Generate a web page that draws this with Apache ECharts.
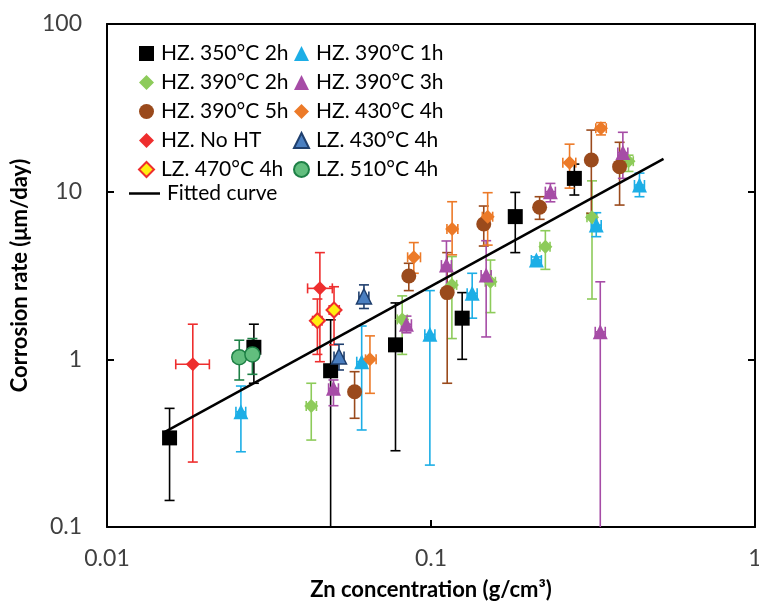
<!DOCTYPE html>
<html>
<head>
<meta charset="utf-8">
<title>Corrosion rate vs Zn concentration</title>
<script src="https://cdn.jsdelivr.net/npm/echarts@6/dist/echarts.min.js"></script>
<style>
  html, body { margin: 0; padding: 0; background: #fff; }
  #chart { width: 759px; height: 603px; }
</style>
</head>
<body>
<div id="chart"></div>
<script>
// Each row: [Zn concentration, corrosion rate, rate low, rate high, conc low, conc high]
const hz350_2h = [
  [0.0156, 0.34, 0.144, 0.51, 0.0156, 0.0156],
  [0.0284, 1.18, 0.72, 1.62, 0.0284, 0.0284],
  [0.049, 0.855, 0.05, 1.72, 0.049, 0.049],
  [0.0777, 1.22, 0.285, 2.17, 0.0777, 0.0777],
  [0.1248, 1.76, 1.0, 2.50, 0.1248, 0.1248],
  [0.182, 7.1, 4.33, 9.9, 0.182, 0.182],
  [0.277, 12.0, 9.55, 14.6, 0.277, 0.277]
];
const hz390_2h = [
  [0.0427, 0.527, 0.33, 0.72, 0.0412, 0.0443],
  [0.0815, 1.73, 1.07, 2.39, 0.0787, 0.0845],
  [0.116, 2.78, 1.33, 4.1, 0.112, 0.120],
  [0.1526, 2.90, 1.90, 3.91, 0.147, 0.158],
  [0.2254, 4.70, 3.44, 5.85, 0.217, 0.233],
  [0.314, 7.03, 2.29, 11.6, 0.303, 0.325],
  [0.407, 15.2, 13.2, 16.5, 0.393, 0.421]
];
const hz390_5h = [
  [0.0581, 0.641, 0.445, 0.844, 0.0565, 0.0598],
  [0.0854, 3.14, 2.57, 3.74, 0.0830, 0.0879],
  [0.1122, 2.50, 0.72, 4.33, 0.109, 0.1155],
  [0.1455, 6.41, 4.74, 8.21, 0.1414, 0.1497],
  [0.2164, 8.07, 6.84, 9.33, 0.2103, 0.2227],
  [0.3125, 15.45, 7.43, 23.3, 0.3037, 0.3216],
  [0.382, 14.1, 8.32, 19.7, 0.3712, 0.3931]
];
const hzNoHT = [
  [0.0184, 0.934, 0.244, 1.62, 0.0163, 0.0207],
  [0.0454, 2.65, 0.968, 4.33, 0.0416, 0.0496]
];
const lz470_4h = [
  [0.0446, 1.70, 1.07, 2.29, 0.0431, 0.0461],
  [0.0502, 1.97, 1.22, 2.71, 0.0485, 0.0521]
];
const hz390_1h = [
  [0.0259, 0.487, 0.281, 0.693, 0.0250, 0.0268],
  [0.0611, 0.968, 0.379, 1.58, 0.0590, 0.0633],
  [0.0992, 1.41, 0.234, 2.57, 0.0957, 0.1028],
  [0.134, 2.48, 1.76, 3.26, 0.1293, 0.1388],
  [0.2115, 3.91, 3.75, 4.08, 0.2041, 0.2191],
  [0.3236, 6.32, 5.39, 7.49, 0.3123, 0.3352],
  [0.44, 10.96, 9.33, 12.9, 0.4246, 0.4558]
];
const hz390_3h = [
  [0.050, 0.672, 0.529, 0.753, 0.0483, 0.0518],
  [0.084, 1.62, 1.44, 1.81, 0.0811, 0.0870],
  [0.1116, 3.65, 2.6, 5.08, 0.1077, 0.1156],
  [0.148, 3.18, 1.36, 5.1, 0.1428, 0.1533],
  [0.2336, 10.0, 8.7, 11.2, 0.2254, 0.2420],
  [0.391, 17.1, 12.0, 22.6, 0.3773, 0.4051],
  [0.333, 1.46, 0.05, 2.90, 0.3213, 0.3450]
];
const hz430_4h = [
  [0.0648, 1.0, 0.627, 1.38, 0.0628, 0.0677],
  [0.0885, 4.06, 3.26, 4.97, 0.0847, 0.0928],
  [0.1162, 5.99, 4.2, 8.71, 0.112, 0.121],
  [0.1496, 7.09, 4.8, 9.86, 0.144, 0.155],
  [0.2677, 14.9, 10.5, 19.2, 0.2552, 0.2798],
  [0.3346, 23.9, 21.8, 25.8, 0.3226, 0.3475]
];
const lz430_4h = [
  [0.052, 1.04, 0.864, 1.23, 0.0502, 0.0539],
  [0.0621, 2.37, 2.01, 2.78, 0.0599, 0.0643]
];
const lz510_4h = [
  [0.0256, 1.03, 0.753, 1.30, 0.0245, 0.0266],
  [0.0281, 1.07, 0.814, 1.33, 0.0270, 0.0292]
];
// Power-law fit, drawn as a straight segment on log-log axes
const fittedCurve = [[0.0150, 0.367], [0.522, 15.7]];

const xTicks = [0.01, 0.1, 1];
const yTicks = [0.1, 1, 10, 100];

const FONT = 'Lato';
const TEXT = '#404040';

function errorBars(rows, color, key) {
  return {
    type: 'custom',
    name: key + ' err',
    coordinateSystem: 'cartesian2d',
    silent: true,
    z: 2,
    data: rows,
    encode: { x: 0, y: 1 },
    renderItem: function (params, api) {
      const cs = params.coordSys;
      const bottom = cs.y + cs.height;
      const x = api.value(0), y = api.value(1);
      const p = api.coord([x, y]);
      const pLo = api.coord([x, api.value(2)]);
      const pHi = api.coord([x, api.value(3)]);
      const st = { stroke: color, lineWidth: 1.6 };
      const cap = 5;
      const kids = [];
      const loClip = pLo[1] > bottom;
      const yLo = Math.min(pLo[1], bottom);
      kids.push({ type: 'line', shape: { x1: p[0], y1: pHi[1], x2: p[0], y2: yLo }, style: st });
      kids.push({ type: 'line', shape: { x1: p[0] - cap, y1: pHi[1], x2: p[0] + cap, y2: pHi[1] }, style: st });
      if (!loClip) {
        kids.push({ type: 'line', shape: { x1: p[0] - cap, y1: yLo, x2: p[0] + cap, y2: yLo }, style: st });
      }
      const xl = api.value(4), xh = api.value(5);
      if (xh > xl) {
        const a = api.coord([xl, y]), b = api.coord([xh, y]);
        kids.push({ type: 'line', shape: { x1: a[0], y1: p[1], x2: b[0], y2: p[1] }, style: st });
        kids.push({ type: 'line', shape: { x1: a[0], y1: p[1] - cap, x2: a[0], y2: p[1] + cap }, style: st });
        kids.push({ type: 'line', shape: { x1: b[0], y1: p[1] - cap, x2: b[0], y2: p[1] + cap }, style: st });
      }
      return { type: 'group', children: kids };
    }
  };
}

function markers(rows, name, symbol, size, fill, border, bw) {
  return {
    type: 'scatter',
    name: name,
    symbol: symbol,
    symbolSize: size,
    z: 3,
    data: rows.map(r => [r[0], r[1]]),
    itemStyle: { color: fill, borderColor: border || fill, borderWidth: bw || 0, opacity: 1 }
  };
}

const groups = [
  { rows: hz350_2h, name: 'HZ. 350°C 2h', symbol: 'rect', size: 15, fill: '#000000', err: '#000000' },
  { rows: hz390_2h, name: 'HZ. 390°C 2h', symbol: 'diamond', size: 14, fill: '#8DCB5A', err: '#8DCB5A' },
  { rows: hz390_5h, name: 'HZ. 390°C 5h', symbol: 'circle', size: 15, fill: '#9A4A1C', err: '#9A4A1C' },
  { rows: hzNoHT, name: 'HZ. No HT', symbol: 'diamond', size: 14, fill: '#EE2E2E', err: '#EE2E2E' },
  { rows: lz470_4h, name: 'LZ. 470°C 4h', symbol: 'diamond', size: 15, fill: '#FFEE10', border: '#EE2E2E', bw: 2, err: '#EE2E2E' },
  { rows: hz390_1h, name: 'HZ. 390°C 1h', symbol: 'triangle', size: 15, fill: '#1CAEE6', err: '#1CAEE6' },
  { rows: hz390_3h, name: 'HZ. 390°C 3h', symbol: 'triangle', size: 15, fill: '#A64CA6', err: '#A64CA6' },
  { rows: hz430_4h, name: 'HZ. 430°C 4h', symbol: 'diamond', size: 14, fill: '#EC7A28', err: '#EC7A28' },
  { rows: lz430_4h, name: 'LZ. 430°C 4h', symbol: 'triangle', size: 15, fill: '#4A7FC1', border: '#1F3F6E', bw: 1.5, err: '#1F3F6E' },
  { rows: lz510_4h, name: 'LZ. 510°C 4h', symbol: 'circle', size: 15, fill: '#62BE7E', border: '#1E8046', bw: 1.5, err: '#1E8046' }
];

const series = [];
groups.forEach((g, i) => series.push(errorBars(g.rows, g.err, 's' + i)));
groups.forEach(g => series.push(markers(g.rows, g.name, g.symbol, g.size, g.fill, g.border, g.bw)));
series.push({
  type: 'line',
  name: 'Fitted curve',
  data: fittedCurve,
  symbol: 'none',
  showSymbol: false,
  z: 4,
  lineStyle: { color: '#000', width: 2.5 },
  itemStyle: { color: '#000' }
});

const legendText = { fontFamily: FONT, fontSize: 21, lineHeight: 20, color: '#000', padding: [0, 0, 0, 2] };

const chart = echarts.init(document.getElementById('chart'), null, { renderer: 'canvas' });
chart.setOption({
  animation: false,
  backgroundColor: '#fff',
  textStyle: { fontFamily: FONT },
  grid: { left: 107, right: 4, top: 24, bottom: 76, containLabel: false, outerBoundsMode: 'none' },
  legend: [
    {
      data: groups.slice(0, 5).map(g => g.name),
      orient: 'vertical', left: 138, top: 43, padding: 0,
      itemWidth: 15, itemHeight: 15, itemGap: 8,
      textStyle: legendText, selectedMode: false
    },
    {
      data: groups.slice(5).map(g => g.name),
      orient: 'vertical', left: 293, top: 43, padding: 0,
      itemWidth: 15, itemHeight: 15, itemGap: 8,
      textStyle: legendText, selectedMode: false
    },
    {
      data: [{ name: 'Fitted curve', icon: 'rect' }],
      orient: 'vertical', left: 129, top: 183, padding: 0,
      itemWidth: 31, itemHeight: 2.5,
      textStyle: legendText, selectedMode: false
    }
  ],
  xAxis: [
    {
      type: 'log', logBase: 10, min: xTicks[0], max: xTicks[xTicks.length - 1],
      name: 'Zn concentration (g/cm³)', nameLocation: 'middle', nameGap: 52,
      nameTextStyle: { fontFamily: FONT, fontSize: 22, fontWeight: 'bold', color: '#000' },
      axisLine: { show: true, lineStyle: { color: '#000', width: 2 } },
      axisTick: { show: true, inside: true, length: 7, lineStyle: { color: '#000', width: 2 } },
      minorTick: { show: false },
      axisLabel: { fontFamily: FONT, fontSize: 23, color: TEXT, margin: 20,
        formatter: v => String(+v.toPrecision(3)) },
      splitLine: { show: false }
    },
    {
      type: 'log', logBase: 10, min: xTicks[0], max: xTicks[xTicks.length - 1], position: 'top',
      axisLine: { show: true, lineStyle: { color: '#000', width: 2 } },
      axisTick: { show: false }, axisLabel: { show: false }, splitLine: { show: false }
    }
  ],
  yAxis: [
    {
      type: 'log', logBase: 10, min: yTicks[0], max: yTicks[yTicks.length - 1],
      name: 'Corrosion rate (μm/day)', nameLocation: 'middle', nameGap: 66, nameRotate: 90,
      nameTextStyle: { fontFamily: FONT, fontSize: 22, fontWeight: 'bold', color: '#000' },
      axisLine: { show: true, lineStyle: { color: '#000', width: 2 } },
      axisTick: { show: true, inside: true, length: 7, lineStyle: { color: '#000', width: 2 } },
      minorTick: { show: false },
      axisLabel: { fontFamily: FONT, fontSize: 23, color: TEXT, margin: 25,
        formatter: v => String(+v.toPrecision(3)) },
      splitLine: { show: false }
    },
    {
      type: 'log', logBase: 10, min: yTicks[0], max: yTicks[yTicks.length - 1], position: 'right',
      axisLine: { show: true, lineStyle: { color: '#000', width: 2 } },
      axisTick: { show: true, inside: true, length: 7, lineStyle: { color: '#000', width: 2 } },
      axisLabel: { show: false }, splitLine: { show: false }
    }
  ],
  series: series
});
</script>
</body>
</html>
